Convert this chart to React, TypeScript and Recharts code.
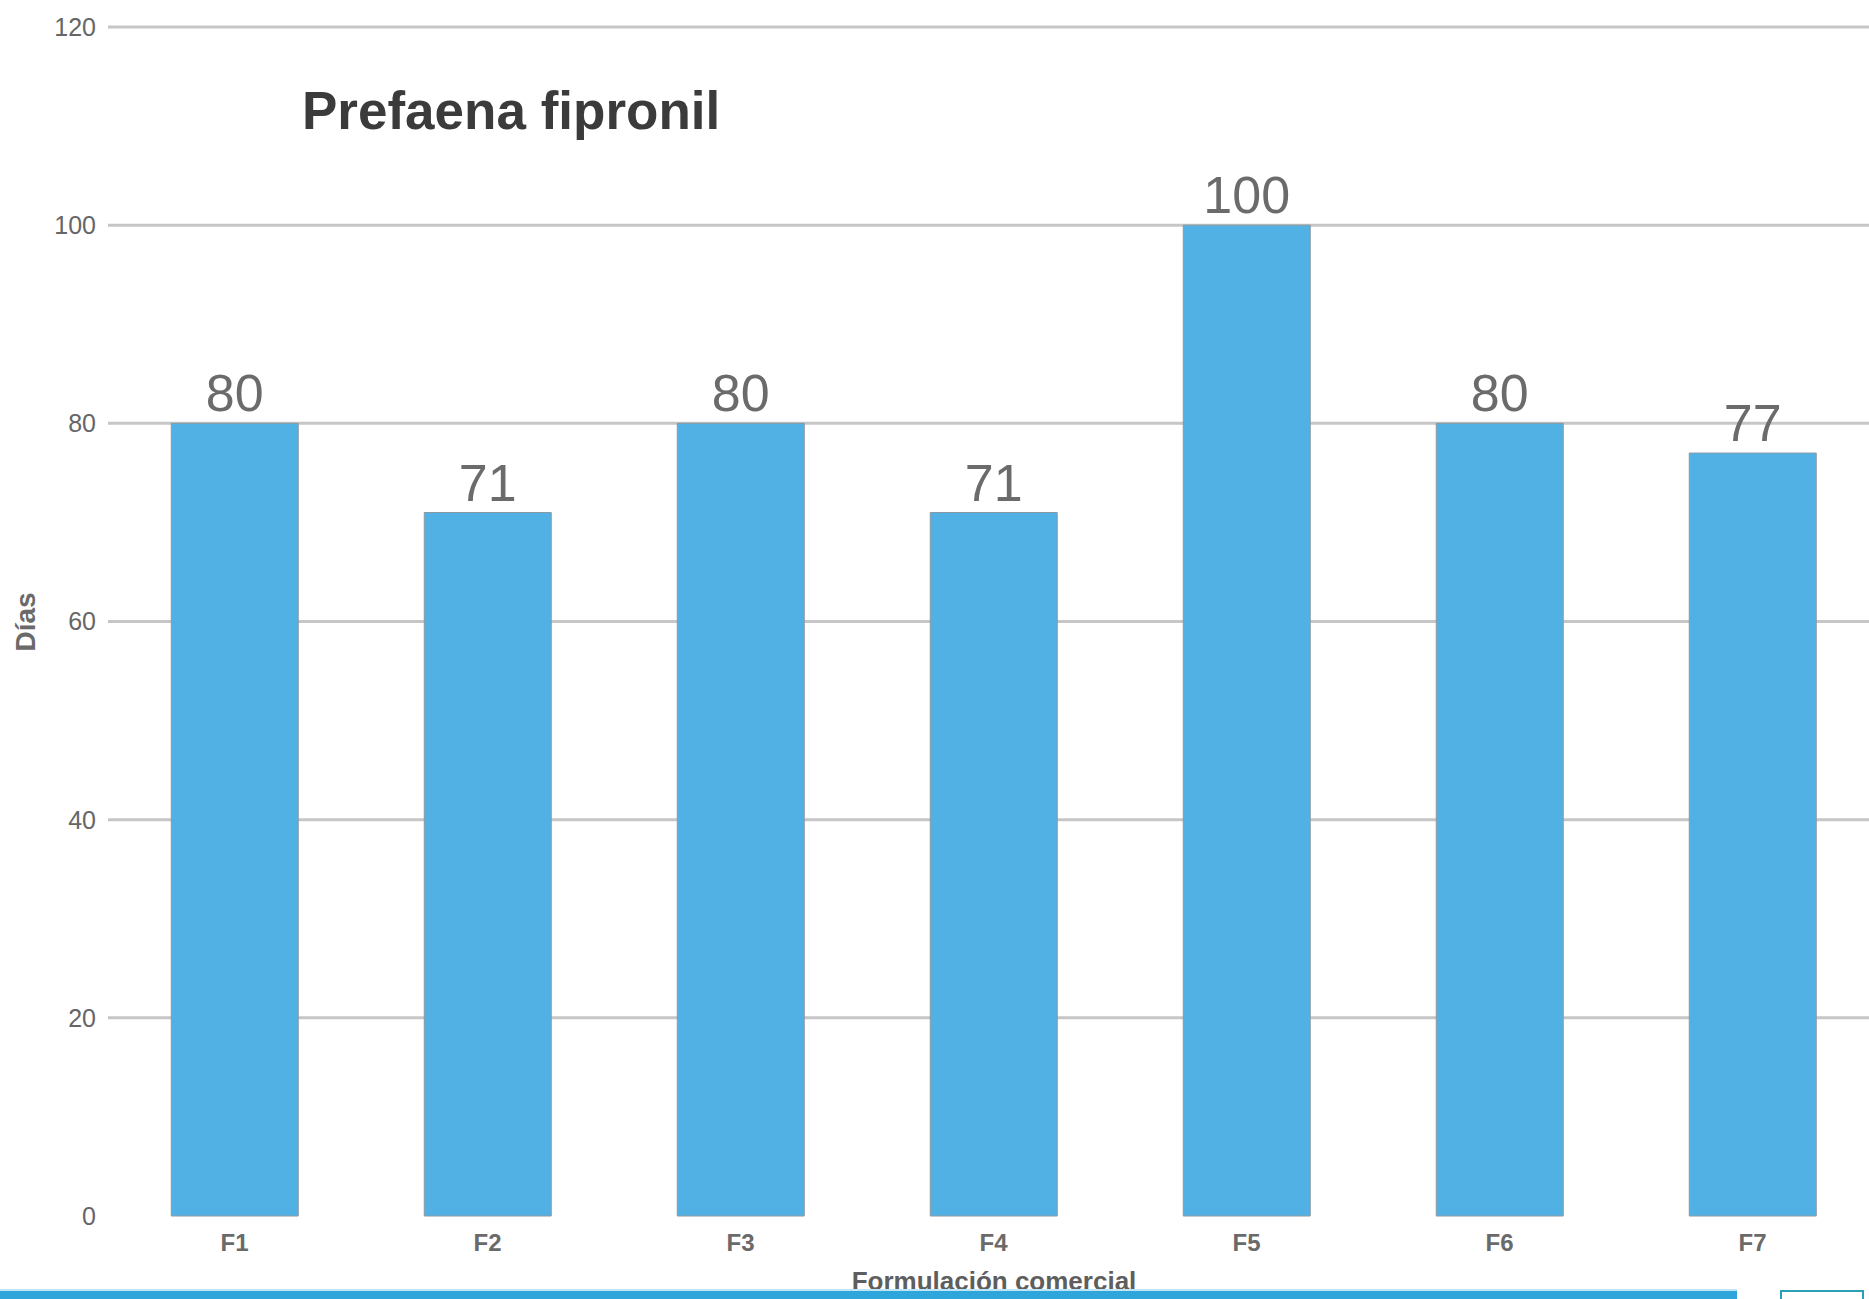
import React from "react";
import { BarChart, Bar, XAxis, YAxis, CartesianGrid, LabelList } from "recharts";

const categories = ["F1", "F2", "F3", "F4", "F5", "F6", "F7"];
const dias = [80, 71, 80, 71, 100, 80, 77];
const yTicks = [0, 20, 40, 60, 80, 100, 120];
const gridValues = [20, 40, 60, 80, 100, 120];
const title = "Prefaena fipronil";
const xTitle = "Formulación comercial";
const yTitle = "Días";

const data = categories.map((c, i) => ({ name: c, value: dias[i] }));

const NARROW = "'Liberation Sans Narrow', 'Arial Narrow', 'Liberation Sans', Arial, sans-serif";
const SANS = "'Liberation Sans', Arial, sans-serif";

export default function App() {
  return (
    <div
      style={{
        position: "absolute",
        left: 0,
        top: 0,
        width: 1869,
        height: 1299,
        overflow: "hidden",
        background: "#ffffff",
      }}
    >
      <BarChart
        width={1880}
        height={1299}
        data={data}
        margin={{ top: 27, right: 1, left: 0, bottom: 0 }}
        barCategoryGap="25%"
      >
        <CartesianGrid
          vertical={false}
          horizontalValues={gridValues}
          stroke="#c6c6c6"
          strokeWidth={3}
        />
        <XAxis
          dataKey="name"
          height={83}
          axisLine={false}
          tickLine={false}
          tickSize={0}
          tickMargin={18}
          tick={{ fill: "#6a6a6a", fontSize: 24, fontWeight: 700, fontFamily: NARROW }}
        />
        <YAxis
          width={108}
          domain={[0, 120]}
          ticks={yTicks}
          axisLine={false}
          tickLine={false}
          tickSize={0}
          tickMargin={12}
          tick={{ fill: "#666666", fontSize: 25, fontFamily: NARROW }}
        />
        <Bar
          dataKey="value"
          fill="#51b1e4"
          stroke="#8a98a2"
          strokeWidth={1}
          isAnimationActive={false}
        >
          <LabelList
            dataKey="value"
            position="top"
            offset={12}
            fill="#6b6b6b"
            fontSize={52}
            fontFamily={SANS}
          />
        </Bar>
      </BarChart>

      <div
        style={{
          position: "absolute",
          left: 302,
          top: 84,
          fontFamily: SANS,
          fontWeight: 700,
          fontSize: 53,
          lineHeight: "53px",
          color: "#3b3b3b",
          whiteSpace: "nowrap",
        }}
      >
        {title}
      </div>

      <div
        style={{
          position: "absolute",
          left: 26,
          top: 622,
          transform: "translate(-50%, -50%) rotate(-90deg)",
          fontFamily: NARROW,
          fontWeight: 700,
          fontSize: 28,
          lineHeight: "28px",
          color: "#6a6a6a",
          whiteSpace: "nowrap",
        }}
      >
        {yTitle}
      </div>

      <div
        style={{
          position: "absolute",
          left: 994,
          top: 1281,
          transform: "translate(-50%, -50%)",
          fontFamily: NARROW,
          fontWeight: 700,
          fontSize: 26,
          lineHeight: "26px",
          color: "#5e5e5e",
          whiteSpace: "nowrap",
        }}
      >
        {xTitle}
      </div>

      <div
        style={{
          position: "absolute",
          left: 0,
          top: 1289,
          width: 1737,
          height: 10,
          background: "#2ea6dc",
          borderTop: "2px solid #bfe6f6",
        }}
      />
      <div
        style={{
          position: "absolute",
          left: 1780,
          top: 1290,
          width: 80,
          height: 14,
          border: "2px solid #2a9fb8",
          background: "#ffffff",
        }}
      />
    </div>
  );
}
